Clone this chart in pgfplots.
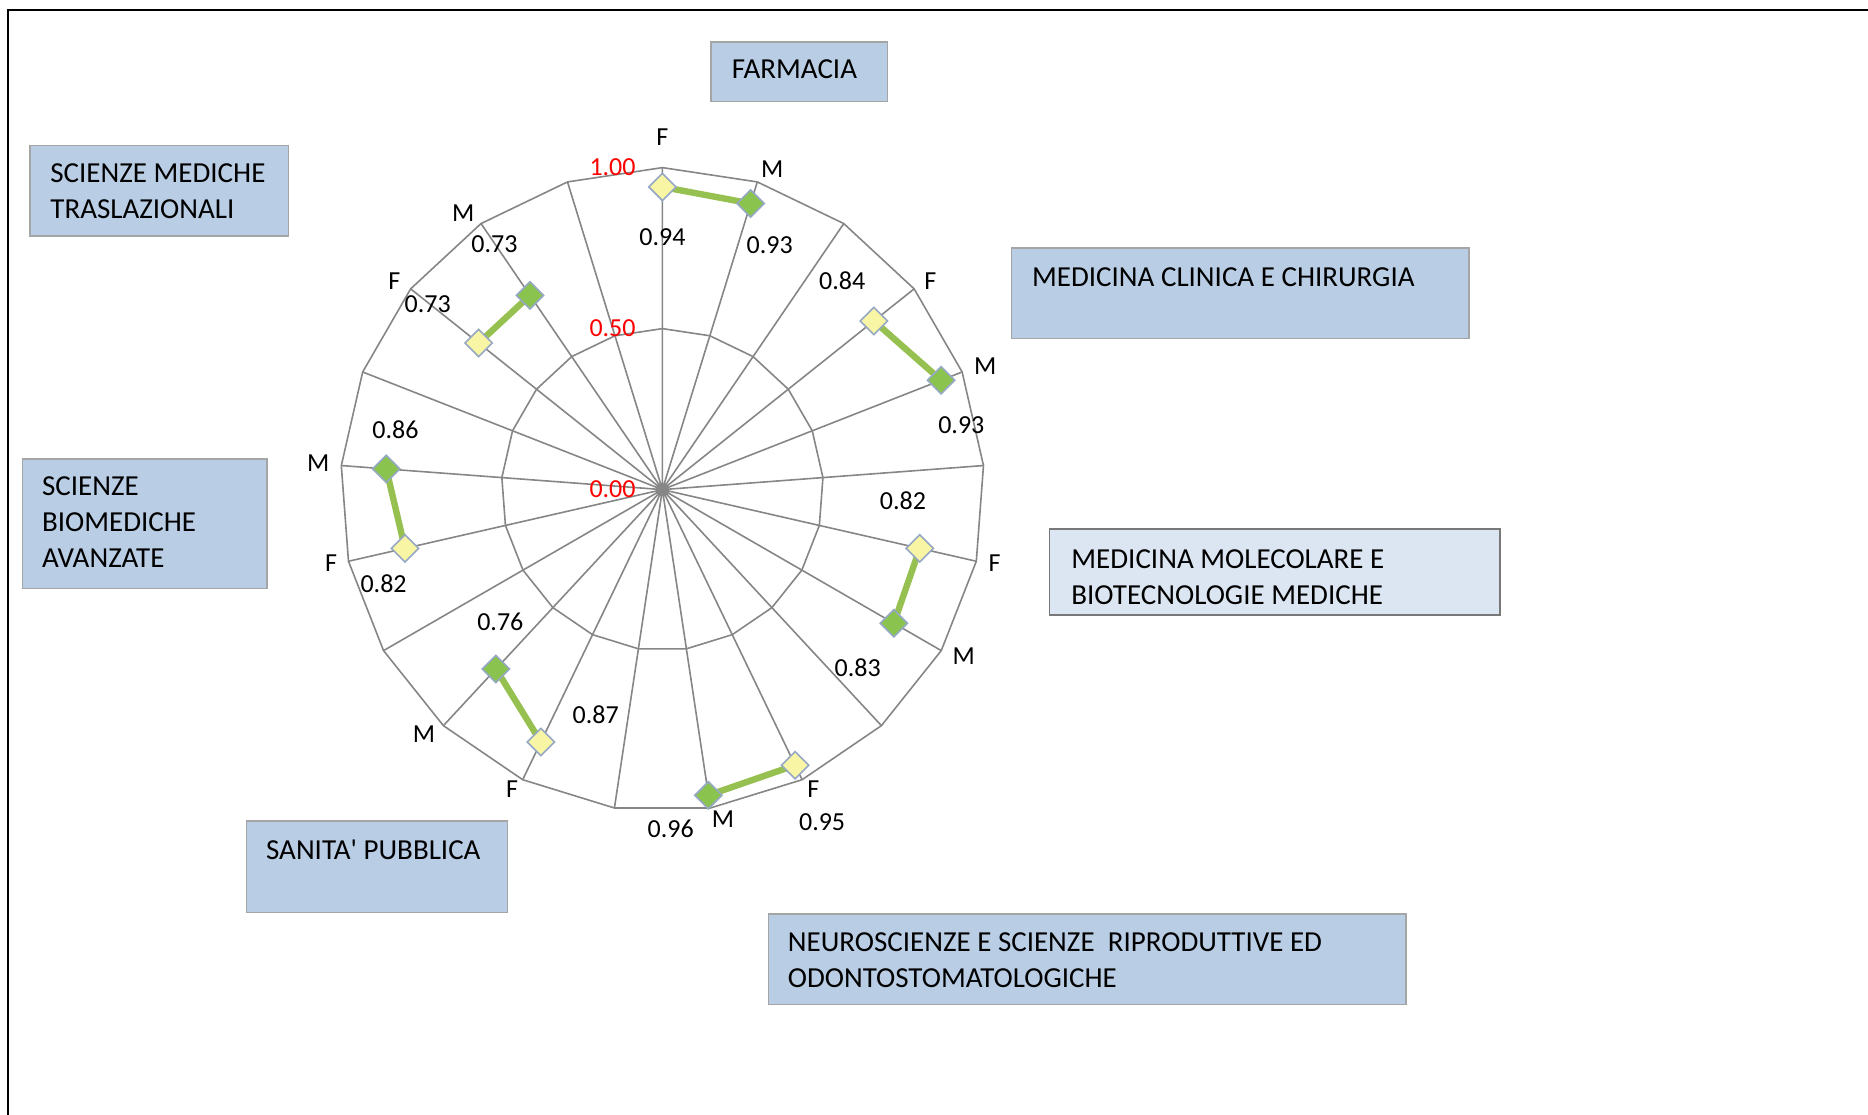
\documentclass[border=0pt]{standalone}
\usepackage{fontspec}
\setmainfont{Carlito}
\newfontfamily\plainfont{Carlito}
\usepackage{pgfplots}
\pgfplotsset{compat=1.18}
\usepgfplotslibrary{polar}
\definecolor{gridgray}{RGB}{134,134,134}
\definecolor{lgreen}{RGB}{150,192,80}
\definecolor{fyel}{RGB}{248,246,165}
\definecolor{mgreen}{RGB}{138,196,78}
\definecolor{mbord}{RGB}{150,168,196}
\definecolor{boxfill}{RGB}{185,205,229}
\definecolor{boxfill2}{RGB}{220,230,242}
\definecolor{boxdraw}{RGB}{165,165,165}
\definecolor{boxdraw2}{RGB}{120,120,120}
\pgfdeclareplotmark{rdia}{%
  \pgfpathmoveto{\pgfqpoint{0pt}{\pgfplotmarksize}}%
  \pgfpathlineto{\pgfqpoint{\pgfplotmarksize}{0pt}}%
  \pgfpathlineto{\pgfqpoint{0pt}{-\pgfplotmarksize}}%
  \pgfpathlineto{\pgfqpoint{-\pgfplotmarksize}{0pt}}%
  \pgfpathclose
  \pgfusepathqfillstroke}
\pgfplotsset{
  dept/.style={draw=lgreen, line width=3.2pt, scatter, scatter src=explicit symbolic,
    mark=rdia, mark size=6.8pt,
    scatter/classes={
      F={mark=rdia, fill=fyel, draw=mbord, line width=0.8pt},
      M={mark=rdia, fill=mgreen, draw=mbord, line width=0.8pt}}},
}
\tikzset{
  btxt/.style={anchor=base west, inner sep=0pt, font=\fontsize{14.5}{18}\selectfont},
  lbl/.style={anchor=center, inner sep=0pt, font=\fontsize{13}{15}\selectfont},
  rlbl/.style={anchor=east, inner sep=0pt, text=red, font=\fontsize{13}{15}\selectfont},
}
\begin{document}
\begin{tikzpicture}
\begin{scope}[x=0.5pt,y=-0.5pt]
\path[use as bounding box] (0,0) rectangle (1868,1114);
\draw[line width=1.1pt] (8,1125) -- (8,10) -- (1880,10);
% FARMACIA
\filldraw[fill=boxfill, draw=boxdraw, line width=0.8pt] (711,41.7) rectangle (887.5,101.3);
\node[btxt] at (731.5,78.6) {FARMACIA};
% SCIENZE MEDICHE TRASLAZIONALI
\filldraw[fill=boxfill, draw=boxdraw, line width=0.8pt] (29.8,145.3) rectangle (288.3,235.9);
\node[btxt] at (50,182.2) {SCIENZE MEDICHE};
\node[btxt] at (50,218) {TRASLAZIONALI};
% MEDICINA CLINICA E CHIRURGIA
\filldraw[fill=boxfill, draw=boxdraw, line width=0.8pt] (1011.4,247.8) rectangle (1468.9,338.3);
\node[btxt] at (1031.7,286) {MEDICINA CLINICA E CHIRURGIA};
% MEDICINA MOLECOLARE
\filldraw[fill=boxfill2, draw=boxdraw2, line width=0.8pt] (1049.5,529) rectangle (1499.9,614.7);
\node[btxt] at (1071,568) {MEDICINA MOLECOLARE E};
\node[btxt] at (1071,604) {BIOTECNOLOGIE MEDICHE};
% SCIENZE BIOMEDICHE AVANZATE
\filldraw[fill=boxfill, draw=boxdraw, line width=0.8pt] (22.6,458.7) rectangle (266.9,588.5);
\node[btxt] at (41.7,495.5) {SCIENZE};
\node[btxt] at (41.7,531.3) {BIOMEDICHE};
\node[btxt] at (41.7,567) {AVANZATE};
% SANITA' PUBBLICA
\filldraw[fill=boxfill, draw=boxdraw, line width=0.8pt] (246.6,820.8) rectangle (507.5,912.5);
\node[btxt] at (265.7,859) {\plainfont SANITA' PUBBLICA};
% NEUROSCIENZE
\filldraw[fill=boxfill, draw=boxdraw, line width=0.8pt] (768.4,913.7) rectangle (1405.7,1004.3);
\node[btxt] at (787.5,951.8) {NEUROSCIENZE E SCIENZE\ \ RIPRODUTTIVE ED};
\node[btxt] at (787.5,987.5) {ODONTOSTOMATOLOGICHE};
\end{scope}

\begin{polaraxis}[
  at={(331.2pt,-244.8pt)}, anchor=center,
  scale only axis, width=322pt, height=322pt,
  xmin=0, xmax=360, ymin=0, ymax=1,
  xtick={4.2857,21.4286,38.5714,55.7143,72.8571,90,107.1429,124.2857,141.4286,158.5714,175.7143,192.8571,210,227.1429,244.2857,261.4286,278.5714,295.7143,312.8571,330,347.1429},
  xticklabels={}, ytick={0,0.5,1}, yticklabels={},
  xmajorgrids, ymajorgrids=false,
  major grid style={draw=gridgray, line width=0.8pt},
  axis line style={draw=none},
  major tick length=0pt,
  clip=false,
]
% polygon grid rings
\addplot[gridgray, line width=0.8pt, mark=none] coordinates {(4.2857,1) (21.4286,1) (38.5714,1) (55.7143,1) (72.8571,1) (90,1) (107.1429,1) (124.2857,1) (141.4286,1) (158.5714,1) (175.7143,1) (192.8571,1) (210,1) (227.1429,1) (244.2857,1) (261.4286,1) (278.5714,1) (295.7143,1) (312.8571,1) (330,1) (347.1429,1) (4.2857,1)};
\addplot[gridgray, line width=0.8pt, mark=none] coordinates {(4.2857,0.5) (21.4286,0.5) (38.5714,0.5) (55.7143,0.5) (72.8571,0.5) (90,0.5) (107.1429,0.5) (124.2857,0.5) (141.4286,0.5) (158.5714,0.5) (175.7143,0.5) (192.8571,0.5) (210,0.5) (227.1429,0.5) (244.2857,0.5) (261.4286,0.5) (278.5714,0.5) (295.7143,0.5) (312.8571,0.5) (330,0.5) (347.1429,0.5) (4.2857,0.5)};
% data: F then M for each department
\addplot[dept] coordinates {(90,0.94) [F] (72.8571,0.93) [M]};
\addplot[dept] coordinates {(38.5714,0.84) [F] (21.4286,0.93) [M]};
\addplot[dept] coordinates {(347.1429,0.82) [F] (330,0.83) [M]};
\addplot[dept] coordinates {(295.7143,0.95) [F] (278.5714,0.96) [M]};
\addplot[dept] coordinates {(244.2857,0.87) [F] (227.1429,0.76) [M]};
\addplot[dept] coordinates {(192.8571,0.82) [F] (175.7143,0.86) [M]};
\addplot[dept] coordinates {(141.4286,0.73) [F] (124.2857,0.73) [M]};
% radial scale labels
\node[rlbl, xshift=-13.2pt] at (axis cs:90,1) {1.00};
\node[rlbl, xshift=-13.2pt] at (axis cs:90,0.5) {0.50};
\node[rlbl, xshift=-13.2pt] at (axis cs:90,0) {0.00};
% category labels
\node[lbl] at (axis cs:90,1.095) {F};
\node[lbl] at (axis cs:71.1,1.052) {M};
\node[lbl] at (axis cs:37.9,1.055) {F};
\node[lbl] at (axis cs:21,1.074) {M};
\node[lbl] at (axis cs:347.5,1.057) {F};
\node[lbl] at (axis cs:331,1.07) {M};
\node[lbl] at (axis cs:296.7,1.043) {F};
\node[lbl] at (axis cs:280.4,1.042) {M};
\node[lbl] at (axis cs:243.4,1.042) {F};
\node[lbl] at (axis cs:225.7,1.06) {M};
\node[lbl] at (axis cs:192.6,1.054) {F};
\node[lbl] at (axis cs:175.6,1.072) {M};
\node[lbl] at (axis cs:142.1,1.055) {F};
\node[lbl] at (axis cs:125.8,1.058) {M};
% value labels
\node[lbl, xshift=0pt, yshift=-25pt] at (axis cs:90,0.94) {0.94};
\node[lbl, xshift=9.5pt, yshift=-21pt] at (axis cs:72.8571,0.93) {0.93};
\node[lbl, xshift=-15.8pt, yshift=19.9pt] at (axis cs:38.5714,0.84) {0.84};
\node[lbl, xshift=10.1pt, yshift=-22.6pt] at (axis cs:21.4286,0.93) {0.93};
\node[lbl, xshift=-8.4pt, yshift=24pt] at (axis cs:347.1429,0.82) {0.82};
\node[lbl, xshift=-18.1pt, yshift=-22pt] at (axis cs:330,0.83) {0.83};
\node[lbl, xshift=13.5pt, yshift=-28.4pt] at (axis cs:295.7143,0.95) {0.95};
\node[lbl, xshift=-18.9pt, yshift=-17pt] at (axis cs:278.5714,0.96) {0.96};
\node[lbl, xshift=27.4pt, yshift=13.6pt] at (axis cs:244.2857,0.87) {0.87};
\node[lbl, xshift=2.2pt, yshift=23.6pt] at (axis cs:227.1429,0.76) {0.76};
\node[lbl, xshift=-10.7pt, yshift=-17.7pt] at (axis cs:192.8571,0.82) {0.82};
\node[lbl, xshift=4.6pt, yshift=19.4pt] at (axis cs:175.7143,0.86) {0.86};
\node[lbl, xshift=-25.5pt, yshift=19.6pt] at (axis cs:141.4286,0.73) {0.73};
\node[lbl, xshift=-17.8pt, yshift=25.6pt] at (axis cs:124.2857,0.73) {0.73};
\end{polaraxis}
\pgfresetboundingbox
\path[use as bounding box] (0pt,0pt) rectangle (934pt,-557pt);
\end{tikzpicture}
\end{document}
